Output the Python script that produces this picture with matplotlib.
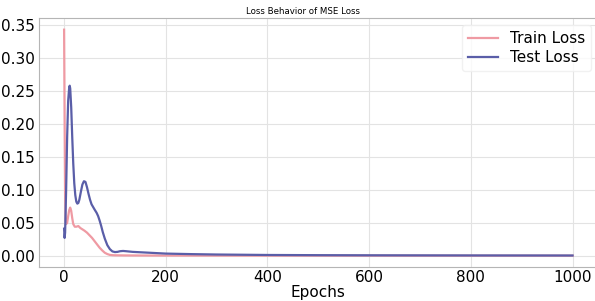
import matplotlib
matplotlib.use("Agg")
import matplotlib.pyplot as plt

train_epochs = [0, 1, 2, 3, 4, 6, 8, 10, 12, 14, 16, 18, 21, 24, 28, 32, 36, 40, 45, 50,
                55, 60, 65, 70, 75, 80, 85, 90, 95, 100, 120, 150, 200, 300, 400, 600, 800, 1000]
train_loss = [0.343, 0.21, 0.09, 0.055, 0.048, 0.050, 0.060, 0.069, 0.073, 0.068, 0.057, 0.048,
              0.044, 0.044, 0.045, 0.042, 0.040, 0.038, 0.035, 0.031, 0.027, 0.022, 0.017,
              0.012, 0.008, 0.0045, 0.0025, 0.0012, 0.0008, 0.0006, 0.0004, 0.0003, 0.0002,
              0.0001, 0.00008, 0.00005, 0.00003, 0.00002]

test_epochs = [0, 1, 2, 4, 6, 8, 10, 11, 12, 14, 16, 18, 20, 22, 24, 26, 28, 30, 33, 36, 39,
               42, 45, 48, 51, 54, 57, 60, 64, 67, 70, 73, 76, 80, 85, 90, 95, 100, 105, 110,
               116, 122, 135, 160, 200, 250, 300, 400, 500, 600, 800, 1000]
test_loss = [0.041, 0.027, 0.035, 0.10, 0.18, 0.235, 0.255, 0.258, 0.254, 0.225, 0.18, 0.14,
             0.11, 0.092, 0.082, 0.079, 0.080, 0.085, 0.097, 0.108, 0.113, 0.112, 0.104, 0.094,
             0.085, 0.078, 0.074, 0.070, 0.065, 0.060, 0.053, 0.045, 0.036, 0.026, 0.016, 0.010,
             0.0065, 0.0055, 0.0058, 0.0068, 0.0072, 0.0068, 0.0058, 0.0048, 0.0032, 0.0024,
             0.0018, 0.0011, 0.0008, 0.0006, 0.0004, 0.0003]

fig = plt.figure(figsize=(5.95, 3.01), dpi=100)
ax = fig.add_axes([0.065, 0.113, 0.94, 0.826])

ax.plot(train_epochs, train_loss, color="#ef9aa3", lw=1.6, label="Train Loss")
ax.plot(test_epochs, test_loss, color="#5a5ea8", lw=1.6, label="Test Loss")

ax.set_title("Loss Behavior of MSE Loss", fontsize=6.2, x=0.473, pad=3)
ax.set_xlabel("Epochs", fontsize=11, labelpad=0)
ax.set_xticks([0, 200, 400, 600, 800, 1000])
ax.set_yticks([0.0, 0.05, 0.10, 0.15, 0.20, 0.25, 0.30, 0.35])
ax.yaxis.set_major_formatter(matplotlib.ticker.FormatStrFormatter("%.2f"))
ax.tick_params(length=0, labelsize=11, pad=2.5)
ax.grid(color="#e3e3e3", lw=0.8)
ax.set_axisbelow(True)
for s in ax.spines.values():
    s.set_color("#b5b5b5")

ax.legend(loc="upper right", fontsize=11, frameon=True, edgecolor="#eeeeee",
          handlelength=1.9, labelspacing=0.25, borderaxespad=0.45)

fig.savefig("out.png", dpi=100)
